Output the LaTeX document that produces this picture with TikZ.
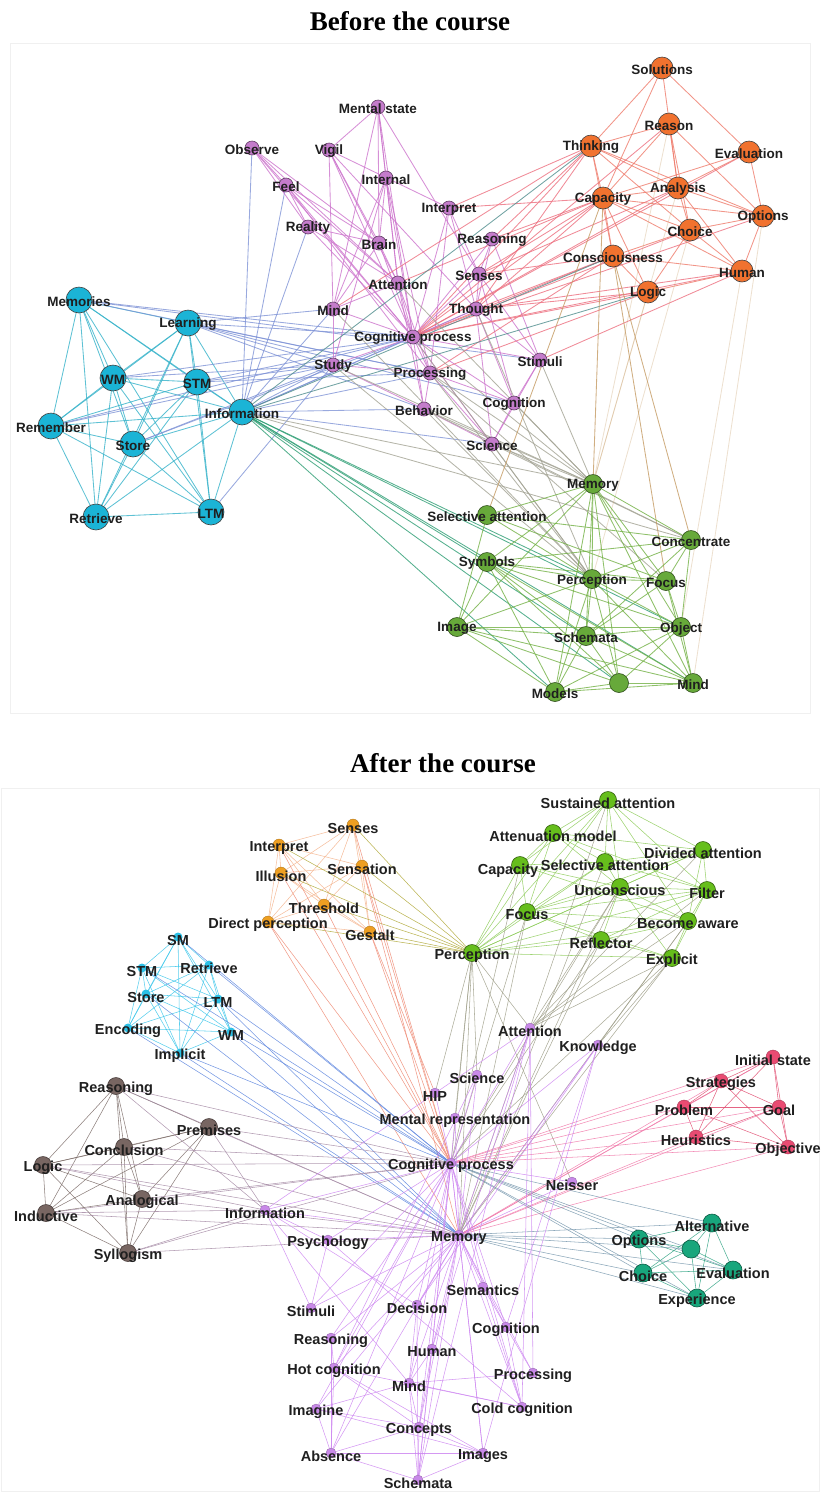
\documentclass[tikz,border=0pt]{standalone}
\usepackage{fontspec}
\setmainfont{Liberation Serif}
\setsansfont{Liberation Sans}
\usepackage{xcolor}
\usetikzlibrary{backgrounds}

% node colours
\definecolor{cyanB}{HTML}{1BB4D6}
\definecolor{purpB}{HTML}{C47CCB}
\definecolor{orngB}{HTML}{F1722F}
\definecolor{grnB}{HTML}{67A93A}
\definecolor{grnA}{HTML}{66BE1C}
\definecolor{orngA}{HTML}{EE9F22}
\definecolor{cyanA}{HTML}{2CC0E6}
\definecolor{purpA}{HTML}{C889E8}
\definecolor{brwnA}{HTML}{786662}
\definecolor{pinkA}{HTML}{E94B72}
\definecolor{tealA}{HTML}{18A67C}
% edge colours, before
\definecolor{eCC}{HTML}{35B2C9}
\definecolor{eCP}{HTML}{7F93D6}
\definecolor{ePP}{HTML}{CC74CC}
\definecolor{eOP}{HTML}{EC6E7E}
\definecolor{eOO}{HTML}{EE7A6A}
\definecolor{eGG}{HTML}{72B044}
\definecolor{eCG}{HTML}{2B9C72}
\definecolor{ePG}{HTML}{A3A394}
\definecolor{eOG}{HTML}{C49A62}
\definecolor{eCO}{HTML}{4E8C8C}
% edge colours, after
\definecolor{fOO}{HTML}{F4B48E}
\definecolor{fOG}{HTML}{B0A838}
\definecolor{fOP}{HTML}{EE8A74}
\definecolor{fCC}{HTML}{3CC6EA}
\definecolor{fCP}{HTML}{5E86DE}
\definecolor{fGG}{HTML}{8CCB58}
\definecolor{fGP}{HTML}{9E9E88}
\definecolor{fBB}{HTML}{7A6A66}
\definecolor{fBP}{HTML}{A58AA5}
\definecolor{fPP}{HTML}{CD86F0}
\definecolor{fKK}{HTML}{E04A6E}
\definecolor{fKP}{HTML}{F07AAA}
\definecolor{fTT}{HTML}{2EA282}
\definecolor{fTP}{HTML}{7898AE}

\tikzset{
  concept/.style={circle, draw=black!75, line width=0.6pt, inner sep=0pt, outer sep=0pt},
  cyb/.style={concept, minimum size=26pt, fill=cyanB},
  pub/.style={concept, minimum size=14pt, fill=purpB, draw=purpB!50!black},
  orb/.style={concept, minimum size=22pt, fill=orngB},
  grb/.style={concept, minimum size=19pt, fill=grnB, draw=grnB!45!black},
  ora/.style={concept, minimum size=12pt, fill=orngA, draw=orngA!70!black, line width=0.3pt},
  cya/.style={concept, minimum size=9pt, fill=cyanA, draw=none},
  gra/.style={concept, minimum size=17pt, fill=grnA, draw=grnA!50!black},
  pua/.style={concept, minimum size=10pt, fill=purpA, draw=purpA!70!black, line width=0.3pt},
  bra/.style={concept, minimum size=17pt, fill=brwnA, draw=brwnA!60!black},
  pka/.style={concept, minimum size=14pt, fill=pinkA, draw=pinkA!70!black, line width=0.4pt},
  tla/.style={concept, minimum size=18pt, fill=tealA, draw=tealA!55!black},
  tagb/.style={font=\sffamily\bfseries\fontsize{13.5}{14}\selectfont, inner sep=0pt, text=black!88, yshift=-1.5pt},
  taga/.style={font=\sffamily\bfseries\fontsize{14.5}{15}\selectfont, inner sep=0pt, text=black!88, yshift=-3pt},
  heading/.style={font=\bfseries\fontsize{27}{30}\selectfont, inner sep=0pt},
  panel/.style={draw=black!6, line width=0.8pt},
  linkb/.style={line width=0.85pt, opacity=0.8},
  linka/.style={line width=0.55pt, opacity=0.85},
  faint/.style={opacity=0.3}
}

\begin{document}
\begin{tikzpicture}[x=1pt, y=-1pt]
  \useasboundingbox (0,0) rectangle (820,1492);

  \node[heading] (tbefore) at (410,21) {Before the course};
  \node[heading] (tafter) at (443,763) {After the course};
  \draw[panel] (10,43) rectangle (810,713);
  \draw[panel] (1,788) rectangle (819,1491);

  % ---- before: memory cluster
  \node[cyb, label={[tagb]center:Memories}] (bmem) at (79,300) {};
  \node[cyb, label={[tagb]center:Learning}] (blearn) at (188,323) {};
  \node[cyb, label={[tagb]center:WM}] (bwm) at (113,378) {};
  \node[cyb, label={[tagb]center:STM}] (bstm) at (197,382) {};
  \node[cyb, label={[tagb]center:Information}] (binfo) at (242,412) {};
  \node[cyb, label={[tagb]center:Remember}] (brem) at (51,426) {};
  \node[cyb, label={[tagb]center:Store}] (bstore) at (133,444) {};
  \node[cyb, label={[tagb]center:Retrieve}] (bretr) at (96,517) {};
  \node[cyb, label={[tagb]center:LTM}] (bltm) at (211,512) {};

  % ---- before: cognition cluster
  \node[pub, label={[tagb]center:Mental state}] (bmental) at (378,107) {};
  \node[pub, label={[tagb]center:Observe}] (bobs) at (252,148) {};
  \node[pub, label={[tagb]center:Vigil}] (bvigil) at (329,150) {};
  \node[pub, label={[tagb]center:Feel}] (bfeel) at (286,185) {};
  \node[pub, label={[tagb]center:Internal}] (binternal) at (386,178) {};
  \node[pub, label={[tagb]center:Interpret}] (binterp) at (449,208) {};
  \node[pub, label={[tagb]center:Reality}] (breal) at (308,227) {};
  \node[pub, label={[tagb]center:Brain}] (bbrain) at (379,243) {};
  \node[pub, label={[tagb]center:Reasoning}] (breason) at (492,239) {};
  \node[pub, label={[tagb]center:Senses}] (bsenses) at (479,274) {};
  \node[pub, label={[tagb]center:Attention}] (batt) at (398,283) {};
  \node[pub, label={[tagb]center:Mind}] (bmind) at (333,309) {};
  \node[pub, label={[tagb]center:Thought}] (bthought) at (476,309) {};
  \node[pub, label={[tagb]center:Cognitive process}] (bcog) at (413,337) {};
  \node[pub, label={[tagb]center:Study}] (bstudy) at (333,365) {};
  \node[pub, label={[tagb]center:Processing}] (bproc) at (430,373) {};
  \node[pub, label={[tagb]center:Stimuli}] (bstim) at (540,360) {};
  \node[pub, label={[tagb]center:Behavior}] (bbehav) at (424,409) {};
  \node[pub, label={[tagb]center:Cognition}] (bcogn) at (514,403) {};
  \node[pub, label={[tagb]center:Science}] (bsci) at (492,444) {};

  % ---- before: thinking cluster
  \node[orb, label={[tagb]center:Solutions}] (bsol) at (662,68) {};
  \node[orb, label={[tagb]center:Reason}] (breas) at (669,124) {};
  \node[orb, label={[tagb]center:Thinking}] (bthink) at (591,146) {};
  \node[orb, label={[tagb]center:Evaluation}] (beval) at (749,152) {};
  \node[orb, label={[tagb]center:Analysis}] (banal) at (678,188) {};
  \node[orb, label={[tagb]center:Capacity}] (bcap) at (603,198) {};
  \node[orb, label={[tagb]center:Options}] (bopt) at (763,216) {};
  \node[orb, label={[tagb]center:Choice}] (bchoice) at (690,230) {};
  \node[orb, label={[tagb]center:Consciousness}] (bcons) at (613,256) {};
  \node[orb, label={[tagb]center:Human}] (bhuman) at (742,271) {};
  \node[orb, label={[tagb]center:Logic}] (blogic) at (648,292) {};

  % ---- before: perception cluster
  \node[grb, label={[tagb]center:Memory}] (bmemory) at (593,484) {};
  \node[grb, label={[tagb]center:Selective attention}] (bsel) at (487,515) {};
  \node[grb, label={[tagb]center:Concentrate}] (bconc) at (691,540) {};
  \node[grb, label={[tagb]center:Symbols}] (bsym) at (487,562) {};
  \node[grb, label={[tagb]center:Perception}] (bperc) at (592,579) {};
  \node[grb, label={[tagb]center:Focus}] (bfocus) at (666,581) {};
  \node[grb, label={[tagb]center:Image}] (bimage) at (457,627) {};
  \node[grb, label={[tagb]center:Object}] (bobj) at (681,627) {};
  \node[grb, label={[tagb]center:Schemata}] (bschem) at (586,636) {};
  \node[grb] (bblank) at (619,683) {};
  \node[grb, label={[tagb]center:Models}] (bmodels) at (555,692) {};
  \node[grb, label={[tagb]center:Mind}] (bmindg) at (693,683) {};

  % ---- after: perception terms
  \node[ora, label={[taga]center:Senses}] (asenses) at (353,825) {};
  \node[ora, label={[taga]center:Interpret}] (ainterp) at (279,845) {};
  \node[ora, label={[taga]center:Illusion}] (aillus) at (281,873) {};
  \node[ora, label={[taga]center:Sensation}] (asensa) at (362,866) {};
  \node[ora, label={[taga]center:Threshold}] (athresh) at (324,905) {};
  \node[ora, label={[taga]center:Direct perception}] (adirect) at (268,922) {};
  \node[ora, label={[taga]center:Gestalt}] (agest) at (370,932) {};

  % ---- after: memory terms
  \node[cya, label={[taga]center:SM}] (asm) at (178,937) {};
  \node[cya, label={[taga]center:STM}] (astm) at (142,968) {};
  \node[cya, label={[taga]center:Retrieve}] (aretr) at (209,965) {};
  \node[cya, label={[taga]center:Store}] (astore) at (146,994) {};
  \node[cya, label={[taga]center:LTM}] (altm) at (218,999) {};
  \node[cya, label={[taga]center:Encoding}] (aenc) at (128,1028) {};
  \node[cya, label={[taga]center:WM}] (awm) at (231,1032) {};
  \node[cya, label={[taga]center:Implicit}] (aimpl) at (180,1053) {};

  % ---- after: attention terms
  \node[gra, label={[taga]center:Sustained attention}] (asust) at (608,800) {};
  \node[gra, label={[taga]center:Attenuation model}] (aatten) at (553,833) {};
  \node[gra, label={[taga]center:Divided attention}] (adiv) at (703,850) {};
  \node[gra, label={[taga, xshift=-12pt, yshift=-3pt]center:Capacity}] (acapg) at (520,865) {};
  \node[gra, label={[taga]center:Selective attention}] (asel) at (605,862) {};
  \node[gra, label={[taga]center:Unconscious}] (auncon) at (620,887) {};
  \node[gra, label={[taga]center:Filter}] (afilter) at (707,890) {};
  \node[gra, label={[taga]center:Focus}] (afocus) at (527,912) {};
  \node[gra, label={[taga]center:Become aware}] (aaware) at (688,921) {};
  \node[gra, label={[taga]center:Reflector}] (arefl) at (601,940) {};
  \node[gra, label={[taga]center:Perception}] (aperc) at (472,953) {};
  \node[gra, label={[taga]center:Explicit}] (aexpl) at (672,958) {};

  % ---- after: reasoning terms
  \node[bra, label={[taga]center:Reasoning}] (areas) at (116,1086) {};
  \node[bra, label={[taga]center:Premises}] (aprem) at (209,1127) {};
  \node[bra, label={[taga]center:Conclusion}] (aconcl) at (124,1147) {};
  \node[bra, label={[taga]center:Logic}] (alogic) at (43,1165) {};
  \node[bra, label={[taga]center:Analogical}] (aanal) at (142,1199) {};
  \node[bra, label={[taga]center:Inductive}] (aind) at (46,1213) {};
  \node[bra, label={[taga]center:Syllogism}] (asyll) at (128,1253) {};

  % ---- after: problem solving terms
  \node[pka, label={[taga]center:Initial state}] (ainit) at (773,1057) {};
  \node[pka, label={[taga]center:Strategies}] (astrat) at (721,1081) {};
  \node[pka, label={[taga]center:Problem}] (aprob) at (684,1107) {};
  \node[pka, label={[taga]center:Goal}] (agoal) at (779,1107) {};
  \node[pka, label={[taga]center:Heuristics}] (aheur) at (696,1137) {};
  \node[pka, label={[taga]center:Objective}] (aobj) at (788,1147) {};

  % ---- after: decision terms
  \node[tla, label={[taga]center:Alternative}] (aalt) at (712,1223) {};
  \node[tla, label={[taga]center:Options}] (aopt) at (639,1239) {};
  \node[tla] (ablank) at (691,1249) {};
  \node[tla, label={[taga]center:Evaluation}] (aeval) at (733,1270) {};
  \node[tla, label={[taga]center:Choice}] (achoice) at (643,1273) {};
  \node[tla, label={[taga]center:Experience}] (aexp) at (697,1298) {};

  % ---- after: cognition terms
  \node[pua, label={[taga]center:Attention}] (aattn) at (530,1028) {};
  \node[pua, label={[taga]center:Knowledge}] (aknow) at (598,1045) {};
  \node[pua, label={[taga]center:Science}] (asci) at (477,1075) {};
  \node[pua, label={[taga]center:HIP}] (ahip) at (435,1093) {};
  \node[pua, label={[taga]center:Mental representation}] (amrep) at (455,1118) {};
  \node[pua, label={[taga]center:Cognitive process}] (acog) at (451,1163) {};
  \node[pua, label={[taga]center:Neisser}] (aneis) at (572,1182) {};
  \node[pua, label={[taga]center:Information}] (ainfo) at (265,1210) {};
  \node[pua, label={[taga]center:Psychology}] (apsy) at (328,1240) {};
  \node[pua, label={[taga]center:Memory}] (amem) at (459,1235) {};
  \node[pua, label={[taga]center:Semantics}] (asem) at (483,1287) {};
  \node[pua, label={[taga]center:Stimuli}] (astim) at (311,1308) {};
  \node[pua, label={[taga]center:Decision}] (adec) at (417,1305) {};
  \node[pua, label={[taga]center:Cognition}] (acogn) at (506,1327) {};
  \node[pua, label={[taga]center:Reasoning}] (areasp) at (331,1338) {};
  \node[pua, label={[taga]center:Human}] (ahum) at (432,1349) {};
  \node[pua, label={[taga]center:Hot cognition}] (ahot) at (334,1368) {};
  \node[pua, label={[taga]center:Mind}] (amind) at (409,1383) {};
  \node[pua, label={[taga]center:Processing}] (aproc) at (533,1373) {};
  \node[pua, label={[taga]center:Imagine}] (aimag) at (316,1409) {};
  \node[pua, label={[taga]center:Cold cognition}] (acold) at (522,1407) {};
  \node[pua, label={[taga]center:Concepts}] (aconc) at (419,1427) {};
  \node[pua, label={[taga]center:Absence}] (aabs) at (331,1453) {};
  \node[pua, label={[taga]center:Images}] (aimgs) at (483,1453) {};
  \node[pua, label={[taga]center:Schemata}] (aschem) at (418,1480) {};

  \begin{scope}[on background layer]
    % before: links
    \foreach \a [count=\i] in {bmem,blearn,bwm,bstm,binfo,brem,bstore,bretr,bltm}
      \foreach \b [count=\j] in {bmem,blearn,bwm,bstm,binfo,brem,bstore,bretr,bltm}
        {\ifnum\j>\i \draw[linkb, eCC] (\a) -- (\b); \fi}
    \foreach \a/\b in {binfo/bobs, binfo/bfeel, binfo/breal, binfo/bmind, binfo/bstudy, binfo/bcog, binfo/bproc,
        binfo/bbehav, binfo/bsci, binfo/bthought, bmem/bcog, bmem/bproc, bmem/bstim, blearn/bcog, blearn/bstudy,
        blearn/bproc, blearn/bbehav, blearn/bmind, blearn/bcogn, brem/bcog, brem/bstudy, bwm/bcog, bwm/bstudy,
        bstm/bcog, bstm/bproc, bstm/bstudy, bstore/bstudy, bstore/bcog, bltm/bstudy}
      \draw[linkb, eCP] (\a) -- (\b);
    \foreach \a/\b in {bmental/bvigil, bmental/binternal, bmental/bbrain, bmental/batt, bmental/bmind, bmental/bcog,
        bmental/bsenses, bobs/bfeel, bobs/bbrain, bobs/batt, bobs/bcog, bobs/breal, bfeel/bbrain, bfeel/batt,
        bfeel/bcog, bfeel/breal, bfeel/bproc, bvigil/bmind, bvigil/batt, bvigil/bbrain, bvigil/bcog, bvigil/binterp,
        bvigil/bthought, binternal/bbrain, binternal/batt, binternal/bcog, binternal/bmind, binternal/bstudy,
        binternal/bproc, breal/batt, breal/bcog, breal/bbrain, bbrain/batt, bbrain/bcog, bbrain/bmind, batt/bcog,
        batt/bmind, batt/bproc, batt/bbehav, binterp/bsenses, binterp/bcog, binterp/bthought, binterp/bproc,
        breason/bsenses, breason/bcog, breason/bthought, breason/bstim, bsenses/bcog, bsenses/bthought,
        bsenses/bstim, bsenses/bcogn, bthought/bcog, bthought/bcogn, bthought/bstim, bthought/bsci, bmind/bcog,
        bmind/bstudy, bcog/bstudy, bcog/bproc, bcog/bbehav, bcog/bsci, bcog/bcogn, bcog/bstim, bproc/bbehav,
        bproc/bsci, bproc/bcogn, bbehav/bsci, bcogn/bsci, bstim/bcogn, bstim/bsci, bstudy/bproc, bstudy/bbehav}
      \draw[linkb, ePP] (\a) -- (\b);
    \foreach \a/\b in {binterp/bthink, binterp/bcap, bcog/bthink, bcog/bcap, bcog/breas, bcog/banal, bcog/bcons,
        bcog/blogic, bcog/bhuman, bcog/bchoice, bcog/bopt, bcog/beval, bthought/bcap, bthought/bcons, bthought/bthink,
        breason/bcap, breason/bthink, bsenses/bcons, bsenses/bcap, bproc/bcons, bproc/blogic, bmind/bthink,
        bstim/bhuman, batt/bcap, bthought/blogic, bthought/bhuman, bsenses/banal}
      \draw[linkb, eOP] (\a) -- (\b);
    \foreach \a/\b in {bsol/bthink, bsol/bcap, bsol/beval, bsol/banal, breas/bthink, breas/bcap, breas/banal,
        breas/bchoice, breas/bopt, bthink/bcap, bthink/banal, bthink/bcons, bthink/bchoice, bthink/bopt, bcap/banal,
        bcap/beval, bcap/bopt, bcap/bchoice, bcap/bcons, bcap/blogic, bcap/bhuman, banal/bchoice, banal/bopt,
        banal/bhuman, banal/beval, bchoice/bhuman, bchoice/bopt, bchoice/bcons, bchoice/blogic, bcons/blogic,
        bcons/bhuman, blogic/bhuman, beval/bopt, bopt/bhuman}
      \draw[linkb, eOO] (\a) -- (\b);
    \foreach \a/\b in {binfo/bthink, binfo/blogic, binfo/bcons}
      \draw[linkb, eCO] (\a) -- (\b);
    \foreach \a/\b in {binfo/bperc, binfo/bschem, binfo/bmodels, binfo/bmindg, binfo/bblank, binfo/bobj, binfo/bsym}
      \draw[linkb, eCG] (\a) -- (\b);
    \foreach \a/\b in {bcog/bmemory, bcog/bperc, bstudy/bmemory, bstudy/bperc, bbehav/bmemory, bbehav/bperc,
        bproc/bmemory, bproc/bperc, bsci/bmemory, bsci/bperc, bsci/bconc, bcogn/bmemory, bstim/bmemory,
        bthought/bperc, bmind/bperc, batt/bmemory, bbehav/bconc, bproc/bfocus, binfo/bmemory, binfo/bconc}
      \draw[linkb, ePG] (\a) -- (\b);
    \foreach \a/\b in {bcap/bsel, bcap/bmemory, bcons/bfocus, bcons/bconc}
      \draw[linkb, eOG] (\a) -- (\b);
    \foreach \a/\b in {breas/bmemory, blogic/bmemory, bhuman/bobj, bopt/bmindg, bchoice/bperc, banal/bmemory}
      \draw[linkb, eOG, faint] (\a) -- (\b);
    \foreach \a/\b in {bmemory/bsel, bmemory/bsym, bmemory/bperc, bmemory/bfocus, bmemory/bconc, bmemory/bimage,
        bmemory/bschem, bmemory/bobj, bmemory/bmindg, bmemory/bblank, bmemory/bmodels, bsel/bconc, bsel/bperc,
        bsel/bfocus, bsel/bimage, bsym/bperc, bsym/bimage, bsym/bschem, bsym/bmodels, bsym/bobj, bsym/bmindg,
        bsym/bblank, bsym/bfocus, bsym/bconc, bperc/bimage, bperc/bschem, bperc/bobj, bperc/bmindg, bperc/bmodels,
        bperc/bblank, bperc/bfocus, bperc/bconc, bconc/bfocus, bconc/bobj, bconc/bschem, bimage/bschem,
        bimage/bobj, bimage/bmodels, bimage/bblank, bimage/bmindg, bschem/bobj, bschem/bmodels, bschem/bmindg,
        bschem/bblank, bobj/bmindg, bobj/bmodels, bobj/bblank, bfocus/bobj, bfocus/bmindg, bfocus/bschem,
        bblank/bmindg, bmodels/bblank, bmodels/bmindg}
      \draw[linkb, eGG] (\a) -- (\b);

    % after: links
    \foreach \a [count=\i] in {asenses,ainterp,aillus,asensa,athresh,adirect,agest}
      \foreach \b [count=\j] in {asenses,ainterp,aillus,asensa,athresh,adirect,agest}
        {\ifnum\j>\i \draw[linka, fOO] (\a) -- (\b); \fi}
    \foreach \a in {asenses,ainterp,aillus,asensa,athresh,adirect,agest}
      \draw[linka, fOG] (\a) -- (aperc);
    \foreach \a/\b in {adirect/acog, aillus/acog, athresh/acog, asensa/acog, asenses/acog, agest/acog, ainterp/acog,
        adirect/amem, agest/ahip, asensa/amem}
      \draw[linka, fOP] (\a) -- (\b);
    \foreach \a [count=\i] in {asm,astm,aretr,astore,altm,aenc,awm,aimpl}
      \foreach \b [count=\j] in {asm,astm,aretr,astore,altm,aenc,awm,aimpl}
        {\ifnum\j>\i \draw[linka, fCC] (\a) -- (\b); \fi}
    \foreach \a/\b in {aretr/acog, altm/acog, awm/acog, aimpl/acog, astm/acog, asm/acog, astore/amem, aenc/amem,
        aimpl/amem, awm/amem, altm/amem}
      \draw[linka, fCP] (\a) -- (\b);
    \foreach \a in {afocus,acapg,aatten,asust,asel,auncon,arefl,aexpl,aaware,afilter,adiv}
      \draw[linka, fGG] (aperc) -- (\a);
    \foreach \a/\b in {asust/aatten, asust/acapg, asust/asel, asust/adiv, asust/afilter, asust/auncon, asust/aaware,
        asust/afocus, aatten/acapg, aatten/asel, aatten/adiv, aatten/afocus, aatten/auncon, aatten/afilter,
        acapg/afocus, acapg/asel, acapg/auncon, acapg/aaware, asel/adiv, asel/auncon, asel/afilter, asel/afocus,
        adiv/afilter, adiv/aaware, adiv/auncon, adiv/afocus, auncon/afilter, auncon/afocus, auncon/aaware,
        auncon/arefl, auncon/aexpl, afocus/afilter, afocus/aaware, afocus/arefl, afocus/aexpl, afilter/aaware,
        afilter/aexpl, afilter/arefl, aaware/arefl, aaware/aexpl, arefl/aexpl}
      \draw[linka, fGG] (\a) -- (\b);
    \foreach \a/\b in {aperc/acog, aperc/amem, aperc/aattn, aperc/amrep, aperc/ahip, aperc/asci, aperc/aneis,
        auncon/amem, auncon/acog, auncon/aattn, aexpl/amem, aexpl/aattn, aexpl/acog, aaware/amem, aaware/aattn,
        arefl/amem, arefl/acog, afocus/acog, afocus/amem, asel/amem, afilter/aattn, acapg/acog, aaware/aknow,
        aexpl/aknow, adiv/aattn, asust/amem}
      \draw[linka, fGP] (\a) -- (\b);
    \foreach \a [count=\i] in {areas,aprem,aconcl,alogic,aanal,aind,asyll}
      \foreach \b [count=\j] in {areas,aprem,aconcl,alogic,aanal,aind,asyll}
        {\ifnum\j>\i \draw[linka, fBB] (\a) -- (\b); \fi}
    \foreach \a/\b in {areas/acog, areas/amem, areas/ainfo, aprem/acog, aprem/amem, aprem/ainfo, aconcl/acog,
        aconcl/amem, alogic/acog, alogic/amem, alogic/ainfo, aind/acog, aind/amem, aind/ainfo, aanal/acog,
        aanal/amem, asyll/acog, asyll/amem, asyll/ainfo}
      \draw[linka, fBP] (\a) -- (\b);
    \foreach \a [count=\i] in {ainit,astrat,aprob,agoal,aheur,aobj}
      \foreach \b [count=\j] in {ainit,astrat,aprob,agoal,aheur,aobj}
        {\ifnum\j>\i \draw[linka, fKK] (\a) -- (\b); \fi}
    \foreach \a in {ainit,astrat,aprob,agoal,aheur,aobj}
      {\draw[linka, fKP] (acog) -- (\a); \draw[linka, fKP] (amem) -- (\a);}
    \foreach \a [count=\i] in {aalt,aopt,ablank,aeval,achoice,aexp}
      \foreach \b [count=\j] in {aalt,aopt,ablank,aeval,achoice,aexp}
        {\ifnum\j>\i \draw[linka, fTT] (\a) -- (\b); \fi}
    \foreach \a in {aalt,aopt,ablank,aeval,achoice,aexp}
      {\draw[linka, fTP] (acog) -- (\a); \draw[linka, fTP] (amem) -- (\a);}
    \foreach \a in {aattn,aknow,asci,ahip,amrep,aneis,ainfo,apsy,amem,asem,adec,acogn,areasp,ahum,ahot,amind,
        aimag,aconc,aabs,aschem,astim,acold,aimgs}
      \draw[linka, fPP] (acog) -- (\a);
    \foreach \a in {aattn,aknow,asci,amrep,ainfo,apsy,asem,adec,acogn,areasp,ahum,ahot,amind,aproc,aimag,acold,
        aconc,aabs,aimgs,aschem,astim,aneis}
      \draw[linka, fPP] (amem) -- (\a);
    \foreach \a/\b in {aimag/aconc, aimag/aimgs, aimag/aabs, aimag/amind, aabs/aconc, aabs/aschem, aabs/aimgs,
        aconc/aschem, aconc/aimgs, amind/aconc, amind/aschem, amind/ahum, amind/acold, amind/aproc, ahum/aschem,
        ahum/aconc, adec/aschem, adec/amind, ahot/acold, ahot/aimgs, areasp/ahot, aimgs/aschem, asem/acogn,
        asem/acold, acogn/acold, acogn/aproc, apsy/acold, apsy/astim, ainfo/apsy, ainfo/astim, ainfo/adec,
        ainfo/amind, aattn/aproc, aattn/aschem, aattn/ainfo, aattn/ahum, aattn/acold, aknow/aimgs, aknow/acogn,
        aknow/adec, asci/ahot, areasp/aabs, ahot/aconc, ahot/aabs}
      \draw[linka, fPP] (\a) -- (\b);
  \end{scope}
\end{tikzpicture}
\end{document}
